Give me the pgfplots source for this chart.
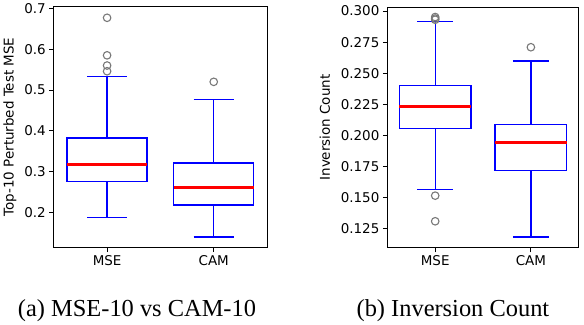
\documentclass[border=0pt]{standalone}
\usepackage{pgfplots}
\pgfplotsset{compat=1.18}
\usepgfplotslibrary{statistics}
\usepackage{fontspec}
\setmainfont{DejaVu Sans}
\newfontfamily\capfont{Liberation Serif}
\definecolor{mblue}{RGB}{0,0,255}
\definecolor{mred}{RGB}{255,0,0}
\definecolor{outl}{RGB}{120,120,120}

\pgfplotsset{
 boxplot/draw direction=y,
 boxplot/every box/.style={draw=mblue,line width=1.4pt},
 boxplot/every whisker/.style={draw=mblue,line width=1.4pt},
 boxplot/every median/.style={draw=mred,line width=2.8pt},
 bx/.style={scale only axis,xmin=0.5,xmax=2.5,xtick={1,2},xticklabels={MSE,CAM},
  boxplot/draw direction=y,
  tick pos=left,tick align=outside,major tick length=4.5pt,
  major tick style={black,line width=0.9pt},axis line style={line width=0.9pt},
  tick label style={font=\fontsize{13.5}{15}\selectfont},
  ylabel style={font=\fontsize{13.5}{15}\selectfont},
  yticklabel style={/pgf/number format/assume math mode=true}},
 bp/.style={mblue,line width=1.4pt,mark=o,mark size=3.8pt,
  mark options={draw=outl,line width=1.1pt}},
}

\begin{document}
\begin{tikzpicture}
% (a) top-10 perturbed test mse
\begin{axis}[bx,at={(52pt,75pt)},anchor=south west,width=214pt,height=242pt,
 ymin=0.1137,ymax=0.705,ytick={0.2,0.3,0.4,0.5,0.6,0.7},
 yticklabel style={/pgf/number format/.cd,fixed,fixed zerofill,precision=1},
 ylabel={Top-10 Perturbed Test MSE},
 ylabel style={at={(axis description cs:-0.206,0.5)},rotate=0,anchor=center}]
\addplot[bp,boxplot prepared={draw position=1,box extend=0.75,whisker extend=0.375,
 lower whisker=0.187,lower quartile=0.275,median=0.318,upper quartile=0.382,upper whisker=0.5325}]
 coordinates {(1,0.546) (1,0.560) (1,0.585) (1,0.677)};
\addplot[bp,boxplot prepared={draw position=2,box extend=0.75,whisker extend=0.375,
 lower whisker=0.140,lower quartile=0.218,median=0.260,upper quartile=0.321,upper whisker=0.476}]
 coordinates {(2,0.520)};
\end{axis}
% (b) inversion count
\begin{axis}[bx,at={(386.7pt,74.7pt)},anchor=south west,width=192pt,height=241.6pt,
 ymin=0.1095,ymax=0.3032,ytick={0.125,0.150,0.175,0.200,0.225,0.250,0.275,0.300},
 yticklabel style={/pgf/number format/.cd,fixed,fixed zerofill,precision=3},
 ylabel={Inversion Count},
 ylabel style={at={(axis description cs:-0.327,0.5)},rotate=0,anchor=center}]
\addplot[bp,boxplot prepared={draw position=1,box extend=0.75,whisker extend=0.375,
 lower whisker=0.1563,lower quartile=0.2057,median=0.2234,upper quartile=0.2402,upper whisker=0.2917}]
 coordinates {(1,0.1309) (1,0.1515) (1,0.2930) (1,0.2940) (1,0.2952)};
\addplot[bp,boxplot prepared={draw position=2,box extend=0.75,whisker extend=0.375,
 lower whisker=0.1184,lower quartile=0.1718,median=0.1940,upper quartile=0.2086,upper whisker=0.2597}]
 coordinates {(2,0.2709)};
\end{axis}
\node[anchor=base,font=\capfont\fontsize{24.5}{28}\selectfont] at (135.5pt,6pt) {(a) MSE-10 vs CAM-10};
\node[anchor=base,font=\capfont\fontsize{24.5}{28}\selectfont] at (452.5pt,6pt) {(b) Inversion Count};
\path (0pt,0pt) (584pt,322pt);
\end{tikzpicture}
\end{document}
